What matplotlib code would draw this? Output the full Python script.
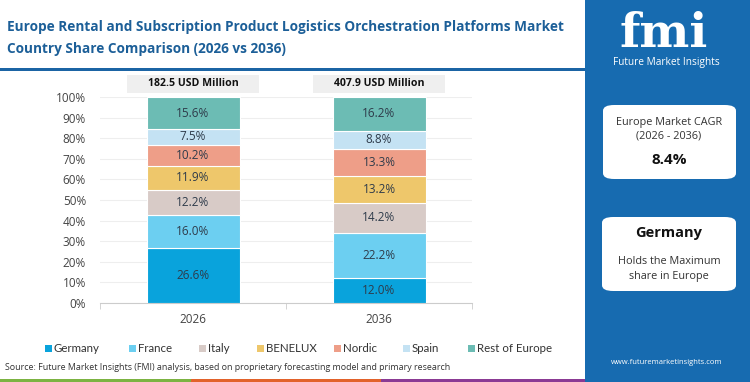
import matplotlib
matplotlib.use("Agg")
import matplotlib.pyplot as plt
from matplotlib.patches import Rectangle, FancyBboxPatch
import matplotlib.transforms as mtransforms

plt.rcParams['font.family'] = ['Open Sans', 'DejaVu Sans']

years = ["2026", "2036"]
totals = ["182.5 USD Million", "407.9 USD Million"]
countries = ["Germany", "France", "Italy", "BENELUX", "Nordic", "Spain", "Rest of Europe"]
share_2026 = [26.6, 16.0, 12.2, 11.9, 10.2, 7.5, 15.6]
share_2036 = [12.0, 22.2, 14.2, 13.2, 13.3, 8.8, 16.2]
colors = ["#09a3dc", "#6ccff1", "#d8cbc7", "#eec76b", "#ee9e88", "#c4e2f3", "#6cbcb4"]

W, H = 750, 382
fig = plt.figure(figsize=(W / 100, H / 100), dpi=100)
fig.patch.set_facecolor("white")

def fx(px):
    return px / W

def fy(py):
    return 1 - py / H

# Axes
ax = fig.add_axes([fx(100), fy(303), fx(472) - fx(100), fy(97) - fy(303)])
series = [share_2026, share_2036]
xs = [0, 1]
for xi, vals in zip(xs, series):
    bottom = 0
    for v, c in zip(vals, colors):
        ax.bar(xi, v, bottom=bottom, width=0.5, color=c, edgecolor="white", linewidth=0.8, zorder=3)
        ax.text(xi, bottom + v / 2, f"{v:.1f}%", ha="center", va="center",
                fontsize=8.5, color="#2e3b4a", zorder=4)
        bottom += v

ax.set_xlim(-0.5, 1.5)
ax.set_ylim(0, 100)
ax.set_yticks(range(0, 101, 10))
ax.set_yticklabels([f"{t}%" for t in range(0, 101, 10)], fontsize=8.5, color="#444444")
ax.set_xticks(xs)
ax.set_xticklabels(years, fontsize=8.5, color="#444444")
ax.set_xticks([-0.5, 0.5, 1.5], minor=True)
ax.tick_params(axis="x", which="major", length=0, pad=7)
ax.tick_params(axis="x", which="minor", length=4, color="#cccccc")
ax.tick_params(axis="y", length=0, pad=10)
ax.grid(axis="y", color="#eeeeee", linewidth=0.8, zorder=0)
for s in ["top", "right", "left"]:
    ax.spines[s].set_visible(False)
ax.spines["bottom"].set_color("#cccccc")

# Total boxes above bars
trans = mtransforms.blended_transform_factory(ax.transData, fig.transFigure)
for xi, t in zip(xs, totals):
    ax.add_patch(Rectangle((xi - 0.355, fy(93)), 0.71, fy(75) - fy(93), transform=trans,
                           facecolor="#efefef", edgecolor="none", clip_on=False, zorder=2))
    ax.text(xi, fy(84), t, transform=trans, ha="center", va="center", fontsize=7.6,
            fontweight="bold", color="#111111", clip_on=False)

# Title
fig.text(fx(7), fy(27), "Europe Rental and Subscription Product Logistics Orchestration Platforms Market",
         fontsize=9.8, fontweight="bold", color="#1c5f98", va="center", ha="left")
fig.text(fx(7), fy(49), "Country Share Comparison (2026 vs 2036)",
         fontsize=9.8, fontweight="bold", color="#1c5f98", va="center", ha="left")
fig.add_artist(Rectangle((0, fy(71)), fx(585), fy(68) - fy(71), transform=fig.transFigure,
                         facecolor="#1b64a4", edgecolor="none"))

# Legend (manual placement, one square + label per country)
sq_x = [45, 129, 199, 257, 334, 403, 468]
ly = 348
for x0, c, name in zip(sq_x, colors, countries):
    fig.add_artist(Rectangle((fx(x0), fy(ly + 3.5)), fx(7), fy(ly - 3.5) - fy(ly + 3.5),
                             transform=fig.transFigure, facecolor=c, edgecolor="none"))
    fig.text(fx(x0 + 9), fy(ly), name, fontsize=8.3, color="#333333", ha="left",
             va="center_baseline", family=["Lato", "DejaVu Sans"])

# Source
fig.text(fx(5), fy(367), "Source: Future Market Insights (FMI) analysis, based on proprietary forecasting model and primary research",
         fontsize=6.4, color="#333333", va="center", ha="left")

# Bottom stripe
for x0, x1, c in [(0, 191, "#7cb342"), (191, 381, "#e2622b"), (381, 585, "#8b3a94")]:
    fig.add_artist(Rectangle((fx(x0), 0), fx(x1) - fx(x0), fy(379), transform=fig.transFigure,
                             facecolor=c, edgecolor="none"))

# Right panel
fig.add_artist(Rectangle((fx(585), 0), 1 - fx(585), 1, transform=fig.transFigure,
                         facecolor="#176bb0", edgecolor="none"))
fig.text(fx(664), fy(34), "fmi", fontsize=34, fontweight="bold", color="white",
         family="DejaVu Serif", ha="center", va="center")
fig.text(fx(666), fy(63), "Future Market Insights", fontsize=7.3, color="white",
         ha="center", va="center")

def card(x0, y0, x1, y1):
    p = FancyBboxPatch((fx(x0), fy(y1)), fx(x1) - fx(x0), fy(y0) - fy(y1),
                       boxstyle="round,pad=0,rounding_size=0.015", transform=fig.transFigure,
                       facecolor="white", edgecolor="none")
    fig.add_artist(p)

card(603, 105, 736, 179)
fig.text(fx(669), fy(122), "Europe Market CAGR", fontsize=7.8, color="#333333", ha="center", va="center")
fig.text(fx(669), fy(136), "(2026 - 2036)", fontsize=7.8, color="#333333", ha="center", va="center")
fig.text(fx(669), fy(160), "8.4%", fontsize=11, fontweight="bold", color="#111111", ha="center", va="center")

card(602, 217, 736, 291)
fig.text(fx(669), fy(233), "Germany", fontsize=10.5, fontweight="bold", color="#111111", ha="center", va="center")
fig.text(fx(669), fy(262), "Holds the Maximum", fontsize=7.8, color="#333333", ha="center", va="center")
fig.text(fx(669), fy(276), "share in Europe", fontsize=7.8, color="#333333", ha="center", va="center")

fig.text(fx(667), fy(362), "www.futuremarketinsights.com", fontsize=5.5, color="white", ha="center", va="center")

fig.savefig("out.png", dpi=100)
